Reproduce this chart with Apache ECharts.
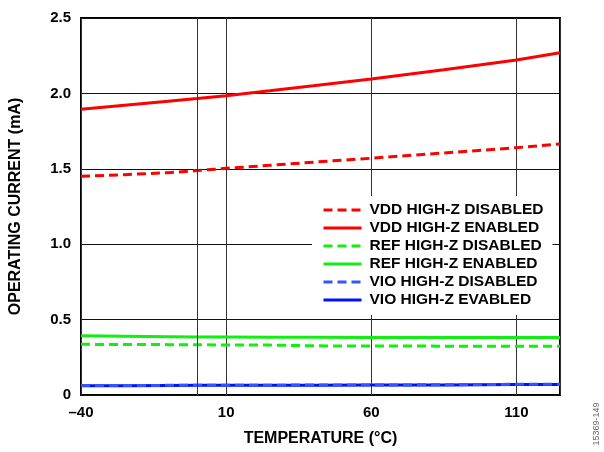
<!DOCTYPE html>
<html>
<head>
<meta charset="utf-8">
<script src="https://cdn.jsdelivr.net/npm/echarts@6/dist/echarts.min.js"></script>
<style>
  html, body { margin: 0; padding: 0; background: #fff; }
  #main { width: 604px; height: 452px; }
</style>
</head>
<body>
<div id="main"></div>
<script>
// temperatures (°C)
var temps = [-40, -25, -10, 0, 10, 25, 40, 60, 85, 110, 125];

// operating current (mA)
var vddDisabled = [1.45, 1.461, 1.474, 1.488, 1.503, 1.523, 1.544, 1.57, 1.605, 1.64, 1.665];
var vddEnabled  = [1.895, 1.922, 1.948, 1.966, 1.985, 2.017, 2.05, 2.095, 2.157, 2.222, 2.27];
var refDisabled = [0.336, 0.335, 0.334, 0.333, 0.332, 0.331, 0.326, 0.325, 0.324, 0.323, 0.323];
var refEnabled  = [0.393, 0.39, 0.387, 0.385, 0.384, 0.383, 0.383, 0.382, 0.382, 0.382, 0.382];
var vioDisabled = [0.063, 0.063, 0.064, 0.064, 0.065, 0.065, 0.066, 0.066, 0.068, 0.071, 0.072];
var vioEnabled  = [0.062, 0.062, 0.063, 0.064, 0.064, 0.065, 0.065, 0.066, 0.067, 0.069, 0.07];

var names = ['VDD HIGH-Z DISABLED', 'VDD HIGH-Z ENABLED', 'REF HIGH-Z DISABLED',
             'REF HIGH-Z ENABLED', 'VIO HIGH-Z DISABLED', 'VIO HIGH-Z EVABLED'];

// extra vertical grid line seen in the original
var extraGridX = [0];

var FONT = 'Liberation Sans, Arial, sans-serif';

function pairs(ys) {
  return temps.map(function (t, i) { return [t, ys[i]]; });
}

function makeSeries(name, ys, color, dashed) {
  return {
    name: name,
    type: 'line',
    data: pairs(ys),
    symbol: 'none',
    z: dashed ? 3 : 2,
    itemStyle: { color: color },
    lineStyle: {
      color: color,
      width: 3,
      type: dashed ? [9, 5] : 'solid'
    }
  };
}

var chart = echarts.init(document.getElementById('main'));

var series = [
  makeSeries(names[0], vddDisabled, '#ff0000', true),
  makeSeries(names[1], vddEnabled, '#ff0000', false),
  makeSeries(names[2], refDisabled, '#11ee11', true),
  makeSeries(names[3], refEnabled, '#11ee11', false),
  makeSeries(names[4], vioDisabled, '#3355ff', true),
  makeSeries(names[5], vioEnabled, '#0011ff', false)
];

series[0].markLine = {
  silent: true,
  symbol: 'none',
  label: { show: false },
  lineStyle: { color: '#333', width: 1, type: 'solid' },
  data: extraGridX.map(function (v) { return { xAxis: v }; })
};

chart.setOption({
  animation: false,
  backgroundColor: '#fff',
  grid: {
    left: 79, right: 44, top: 18, bottom: 49,
    show: true,
    borderColor: '#000',
    borderWidth: 2
  },
  legend: {
    data: names,
    orient: 'vertical',
    left: 312,
    top: 196,
    padding: [6, 9, 7, 10],
    itemGap: 2,
    itemWidth: 38,
    itemHeight: 16,
    backgroundColor: '#fff',
    itemStyle: { opacity: 0 },
    lineStyle: { width: 3 },
    textStyle: {
      fontFamily: FONT,
      fontWeight: 'bold',
      fontSize: 15.5,
      color: '#000',
      padding: [0, 0, 0, 3]
    }
  },
  xAxis: {
    type: 'value',
    min: -40,
    max: 125,
    interval: 50,
    name: 'TEMPERATURE (°C)',
    nameLocation: 'middle',
    nameGap: 36,
    nameTextStyle: { fontFamily: FONT, fontWeight: 'bold', fontSize: 16, color: '#000' },
    axisLine: { show: false },
    axisTick: { show: false },
    axisLabel: {
      margin: 10,
      fontFamily: FONT,
      fontWeight: 'bold',
      fontSize: 15,
      color: '#000',
      showMaxLabel: false,
      formatter: function (v) { return v < 0 ? '\u2013' + Math.abs(v) : String(v); }
    },
    splitLine: { show: true, lineStyle: { color: '#333', width: 1 } }
  },
  yAxis: {
    type: 'value',
    min: 0,
    max: 2.5,
    interval: 0.5,
    name: 'OPERATING CURRENT (mA)',
    nameLocation: 'middle',
    nameGap: 57,
    nameTextStyle: { fontFamily: FONT, fontWeight: 'bold', fontSize: 16, color: '#000' },
    axisLine: { show: false },
    axisTick: { show: false },
    axisLabel: {
      margin: 10,
      fontFamily: FONT,
      fontWeight: 'bold',
      fontSize: 15,
      color: '#000',
      formatter: function (v) { return v === 0 ? '0' : v.toFixed(1); }
    },
    splitLine: { show: true, lineStyle: { color: '#111', width: 1 } }
  },
  graphic: [{
    type: 'text',
    x: 597,
    y: 424,
    rotation: Math.PI / 2,
    style: {
      text: '15369-149',
      fontFamily: FONT,
      fontSize: 9,
      fill: '#666',
      align: 'center',
      verticalAlign: 'middle'
    }
  }],
  series: series
});
</script>
</body>
</html>
